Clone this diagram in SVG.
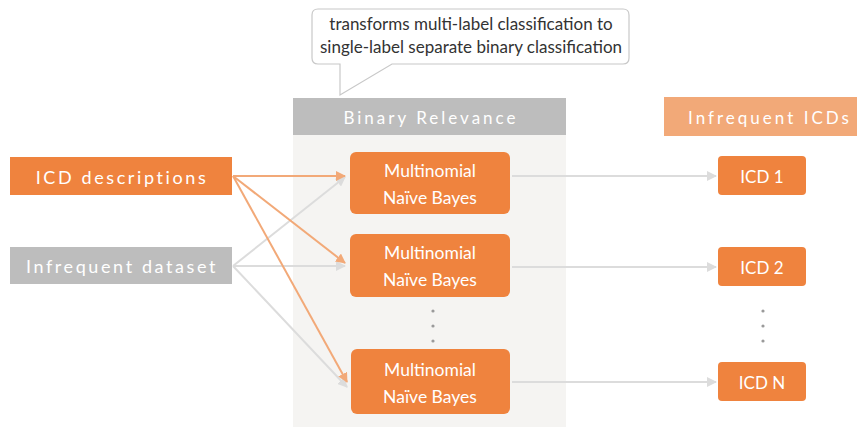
<svg xmlns="http://www.w3.org/2000/svg" width="857" height="427" viewBox="0 0 857 427">
  <defs>
    <style>
      .t { font-family: Lato, "Noto Sans", "DejaVu Sans", sans-serif; fill: #ffffff; text-anchor: middle; dominant-baseline: central; }
      .hdr { font-size: 17px; letter-spacing: 3px; }
      .src { font-size: 18px; letter-spacing: 2.6px; }
      .mnb { font-size: 17.5px; }
      .icd { font-size: 17px; }
      .box { fill: #ef833e; }
      .orange { stroke: #f2a978; stroke-width: 2; fill: none; marker-end: url(#ah-o); }
      .gray { stroke: #dcdcdc; stroke-width: 2; fill: none; marker-end: url(#ah-g); }
      .dot { fill: #9a9a9a; }
      .note { font-family: Lato, "Noto Sans", "DejaVu Sans", sans-serif; font-size: 17px; fill: #333333; text-anchor: middle; }
    </style>
    <marker id="ah-o" viewBox="0 0 10 10" refX="9" refY="5" markerWidth="5" markerHeight="5" orient="auto">
      <path d="M0,0 L10,5 L0,10 z" fill="#f2a978"/>
    </marker>
    <marker id="ah-g" viewBox="0 0 10 10" refX="9" refY="5" markerWidth="5" markerHeight="5" orient="auto">
      <path d="M0,0 L10,5 L0,10 z" fill="#dcdcdc"/>
    </marker>
  </defs>

  <rect width="857" height="427" fill="#ffffff"/>

  <!-- binary relevance panel -->
  <g id="binary-relevance">
    <rect x="293" y="135" width="273" height="292" fill="#f5f4f2"/>
    <rect x="293" y="98" width="273" height="37" fill="#bdbdbd"/>
    <text class="t hdr" x="431" y="117">Binary Relevance</text>
  </g>

  <!-- speech bubble note -->
  <g id="note">
    <path d="M318,9 H623 Q629,9 629,15 V58 Q629,64 623,64 H392 L340,95 V64 H318 Q312,64 312,58 V15 Q312,9 318,9 Z" fill="#ffffff" stroke="#c8c8c8" stroke-width="1.2"/>
    <text class="note" x="471" y="30">transforms multi-label classification to</text>
    <text class="note" x="471" y="53">single-label separate binary classification</text>
  </g>

  <g id="infrequent-icds-header">
    <rect x="664" y="97" width="193" height="39" fill="#f2a978"/>
    <text class="t hdr" x="770" y="117">Infrequent ICDs</text>
  </g>

  <!-- connectors -->
  <g id="connectors">
    <line class="gray" x1="233" y1="266" x2="345" y2="177"/>
    <line class="gray" x1="233" y1="266" x2="345" y2="266"/>
    <line class="gray" x1="233" y1="266" x2="347" y2="387"/>
    <line class="orange" x1="233" y1="176" x2="345" y2="176"/>
    <line class="orange" x1="233" y1="176" x2="345" y2="263"/>
    <line class="orange" x1="233" y1="176" x2="347" y2="382"/>
    <line class="gray" x1="512" y1="176" x2="716" y2="176"/>
    <line class="gray" x1="512" y1="267" x2="716" y2="267"/>
    <line class="gray" x1="512" y1="382" x2="716" y2="382"/>
  </g>

  <g id="icd-descriptions">
    <rect x="10" y="157" width="222" height="38" fill="#ef833e"/>
    <text class="t src" x="122" y="177">ICD descriptions</text>
  </g>

  <g id="infrequent-dataset">
    <rect x="10" y="247" width="222" height="37" fill="#bdbdbd"/>
    <text class="t src" x="122" y="266">Infrequent dataset</text>
  </g>

  <g id="mnb-1">
    <rect class="box" x="350" y="152" width="160" height="62" rx="6"/>
    <text class="t mnb" x="430" y="170">Multinomial</text>
    <text class="t mnb" x="430" y="197">Naïve Bayes</text>
  </g>
  <g id="mnb-2">
    <rect class="box" x="350" y="234" width="160" height="63" rx="6"/>
    <text class="t mnb" x="430" y="252">Multinomial</text>
    <text class="t mnb" x="430" y="279">Naïve Bayes</text>
  </g>
  <g id="mnb-n">
    <rect class="box" x="351" y="349" width="159" height="65" rx="6"/>
    <text class="t mnb" x="430" y="369">Multinomial</text>
    <text class="t mnb" x="430" y="396">Naïve Bayes</text>
  </g>
  <g id="mnb-ellipsis">
    <circle class="dot" cx="433" cy="311" r="1.6"/>
    <circle class="dot" cx="433" cy="326" r="1.6"/>
    <circle class="dot" cx="433" cy="341" r="1.6"/>
  </g>

  <g id="icd-1">
    <rect class="box" x="718" y="156" width="88" height="39" rx="4"/>
    <text class="t icd" x="762" y="176">ICD 1</text>
  </g>
  <g id="icd-2">
    <rect class="box" x="718" y="247" width="88" height="39" rx="4"/>
    <text class="t icd" x="762" y="267">ICD 2</text>
  </g>
  <g id="icd-n">
    <rect class="box" x="718" y="362" width="88" height="39" rx="4"/>
    <text class="t icd" x="762" y="382">ICD N</text>
  </g>
  <g id="icd-ellipsis">
    <circle class="dot" cx="763" cy="311" r="1.6"/>
    <circle class="dot" cx="763" cy="326" r="1.6"/>
    <circle class="dot" cx="763" cy="341" r="1.6"/>
  </g>
</svg>
